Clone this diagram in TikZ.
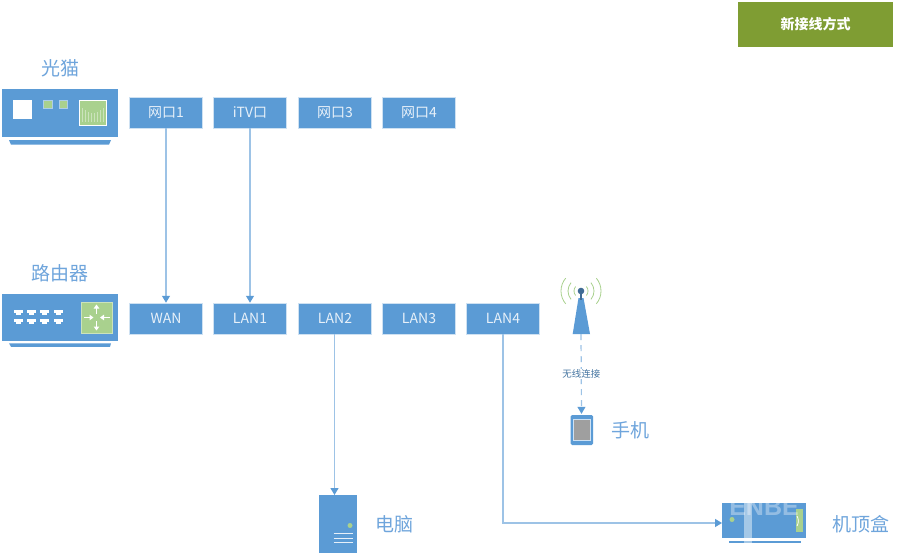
\documentclass[tikz,border=0pt]{standalone}
\usepackage{fontspec}
\setmainfont{Liberation Sans}
\newfontfamily\cjk{Noto Sans CJK SC}
\usetikzlibrary{arrows.meta}
\definecolor{bl}{HTML}{5B9BD5}
\definecolor{ln}{HTML}{9DC3E6}
\definecolor{gr}{HTML}{A9D18E}
\definecolor{ol}{HTML}{7F9D33}
\definecolor{lab}{HTML}{6FA5DC}
\tikzset{
 port/.style={fill=bl,draw=white!70!bl,line width=.5pt,minimum width=73pt,minimum height=31pt,inner sep=0,text=white!85!bl,font=\cjk\fontsize{14}{14}\selectfont},
 dev/.style={fill=bl,draw=none},
 title/.style={text=lab,inner sep=0,font=\cjk\fontsize{19}{19}\selectfont},
 conn/.style={draw=ln,line width=1.2pt,-{Triangle[length=7pt,width=8pt,color=bl]}},
}
\begin{document}
\begin{tikzpicture}[x=1pt,y=-1pt]
\useasboundingbox (0,0) rectangle (899,554);
\fill[white] (0,0) rectangle (899,554);
% badge
\node[fill=ol,minimum width=155pt,minimum height=45pt,inner sep=0,text=white,font=\cjk\bfseries\fontsize{14}{14}\selectfont] (badge) at (815.5,24) {新接线方式};
% modem
\node[title] (tmodem) at (60.5,68.5) {光猫};
\node[dev,minimum width=116.5pt,minimum height=47.5pt,inner sep=0] (modem) at (60,112.8) {};
\fill[bl] (9,140) -- (111,140) -- (109,144.7) -- (11,144.7) -- cycle;
\fill[white] (13,100) rectangle (32,119);
\fill[gr,draw=white!50!bl] (43.5,100.5) rectangle (52,108.5);
\fill[gr,draw=white!50!bl] (59,100.5) rectangle (67.5,108.5);
\fill[gr,draw=white] (79.5,100.5) rectangle (106,125.5);
\foreach \x/\h in {82/14,85/12,88/10,91/9,94/9,97/10,100/12,103/14}
  \draw[white!40!gr,line width=1pt] (\x,122) -- (\x,122-\h);
\node[port] (p1) at (166,112.5) {网口1};
\node[port] (p2) at (250,112.5) {iTV口};
\node[port] (p3) at (335,112.5) {网口3};
\node[port] (p4) at (419,112.5) {网口4};
% router
\node[title] (trouter) at (60,273.5) {路由器};
\node[dev,minimum width=116.5pt,minimum height=47pt,inner sep=0] (router) at (60,317.5) {};
\fill[bl] (9,343.3) -- (111,343.3) -- (110,346.8) -- (11,346.8) -- cycle;
\foreach \x in {18,31.5,44.5,58} \foreach \y in {312,321}{
  \fill[white] (\x-4.5,\y-2.5) rectangle (\x+4.5,\y+.5);
  \fill[white] (\x-2.5,\y+.5) rectangle (\x+2.5,\y+2.5);
}
\fill[gr,draw=white!40!gr] (81,302) rectangle (112,333);
\foreach \a/\b/\c/\d in {96.5/314/96.5/304.5,96.5/321/96.5/330.5,84/317.5/93.5/317.5,109.5/317.5/100/317.5}
  \draw[white,line width=1.1pt,-{Triangle[length=4pt,width=5.5pt]}] (\a,\b) -- (\c,\d);
\node[port] (wan) at (166,318.5) {WAN};
\node[port] (l1) at (250,318.5) {LAN1};
\node[port] (l2) at (335,318.5) {LAN2};
\node[port] (l3) at (419,318.5) {LAN3};
\node[port] (l4) at (503,318.5) {LAN4};
% antenna
\coordinate (ant) at (581,334);
\fill[bl] (572.7,334) -- (578.5,298) -- (583.5,298) -- (590,334) -- cycle;
\draw[bl!70!black,line width=1.3pt] (581,291) -- (581,300);
\fill[bl!70!black] (581,291) circle (3.3pt);
\foreach \r in {7,13,20}{
  \draw[gr,line width=.8pt] (581,291) ++(-40:\r) arc (-40:40:\r);
  \draw[gr,line width=.8pt] (581,291) ++(140:\r) arc (140:220:\r);
}
% phone
\fill[bl,rounded corners=1.5pt] (570.5,415) rectangle (593,445) ;
\fill[gray!75] (573,419) rectangle (590.5,440.5);
\draw[white!70!bl,line width=.5pt] (573,419) rectangle (590.5,440.5);
\node[inner sep=0] (phone) at (581.5,414.5) {};
\node[title] (tphone) at (630,430.5) {手机};
% pc
\node[dev,minimum width=38pt,minimum height=58pt,inner sep=0] (pc) at (338,524) {};
\fill[gr] (350,525.5) circle (2.5pt);
\foreach \y in {533,538,542.5} \draw[white!85!bl,line width=1pt] (333.5,\y) -- (352.5,\y);
\node[title] (tpc) at (394.5,524.5) {电脑};
% stb
\node[dev,minimum width=84pt,minimum height=35pt,inner sep=0] (stb) at (764,520.5) {};
\fill[bl] (728.5,540.7) rectangle (801,543);
\fill[gr] (796,509) rectangle (803,532);
\draw[white,line width=.8pt] (797,516) arc (-30:30:10);
\fill[gr] (732,519.5) circle (2.5pt);
\begin{scope}
\clip (715,502) rectangle (815,518);
\node[text=white,opacity=.35,inner sep=0,font=\bfseries\fontsize{25}{25}\selectfont] (mark) at (764,507) {ENBE};
\end{scope}
\fill[white,opacity=.45] (743.5,502) rectangle (751.5,545);
\node[title] (tstb) at (861,524.5) {机顶盒};
% connectors
\coordinate (pcin) at (334.5,495);
\coordinate (stbin) at (722,523);
\draw[conn] (p1) -- (wan);
\draw[conn] (p2) -- (l1);
\draw[conn] (l2.south -| pcin) -- (pcin);
\draw[conn] (l4.south) -- (l4.south |- stbin) -- (stbin);
\draw[draw=ln,line width=1.2pt,dash pattern=on 6pt off 5pt,-{Triangle[length=7pt,width=8pt,color=bl]}] (ant) -- (phone)
  node[pos=.5,fill=white,inner sep=1pt,text=bl!75!black,font=\cjk\fontsize{9.5}{9.5}\selectfont] {无线连接};
\end{tikzpicture}
\end{document}
